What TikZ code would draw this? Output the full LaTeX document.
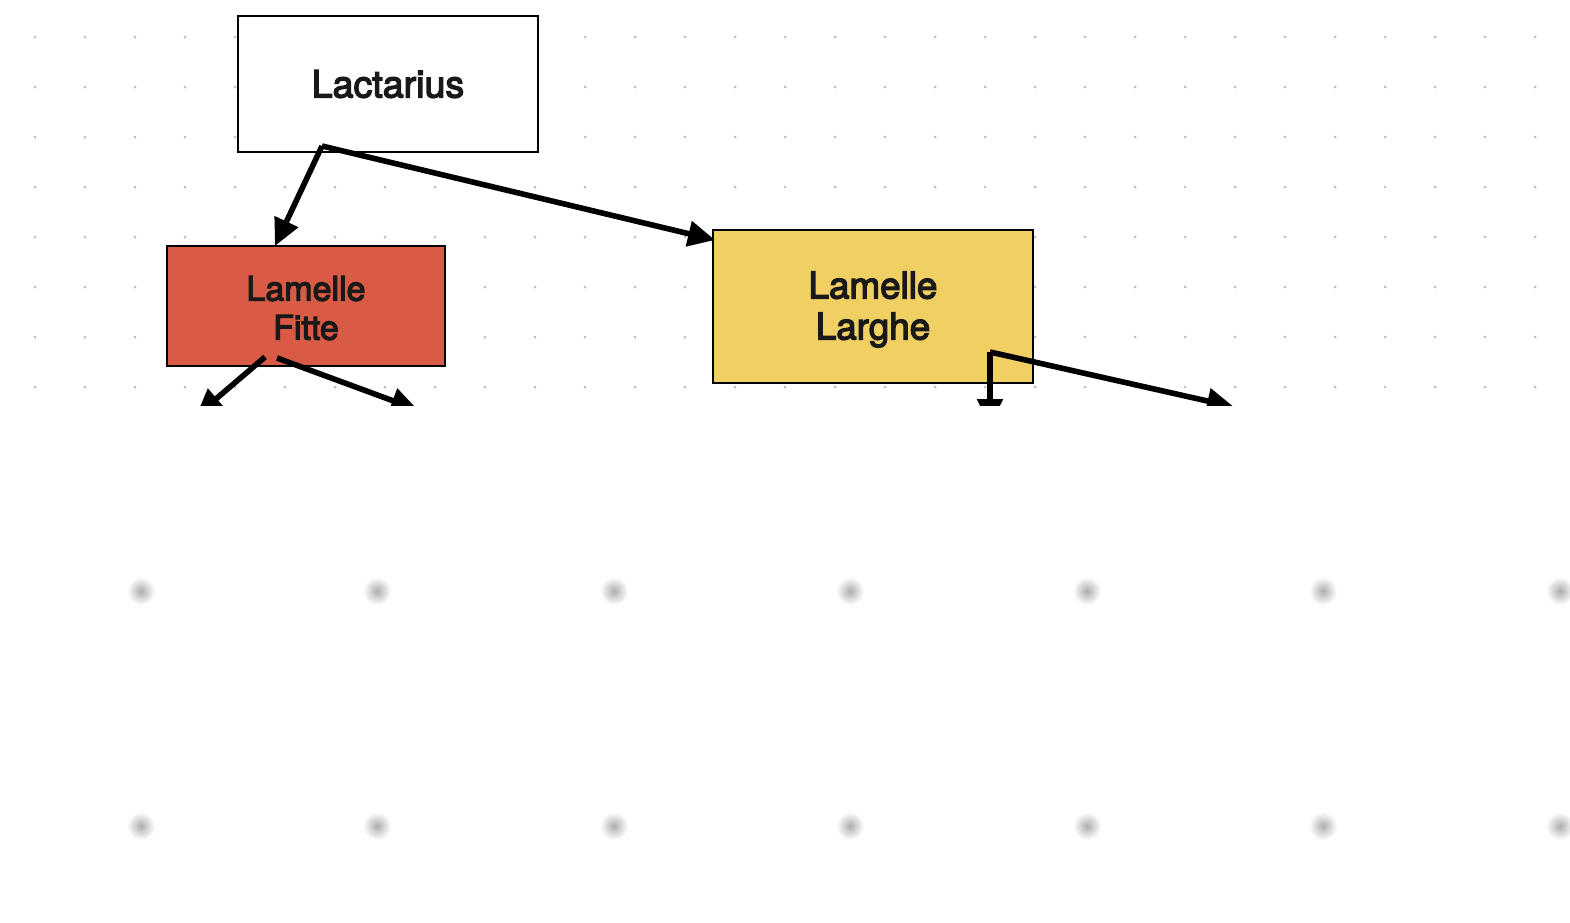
\documentclass[tikz,border=0pt]{standalone}
\usepackage{fontspec}
\setmainfont{TeX Gyre Heros}
\newfontfamily\fb[FakeBold=3.5]{TeX Gyre Heros}
\usetikzlibrary{arrows.meta,calc}
\definecolor{redbox}{HTML}{D95B45}
\definecolor{yellowbox}{HTML}{F0CF63}
\definecolor{griddot}{HTML}{BDBDBD}
\tikzset{
  box/.style={draw=black, line width=1pt, rectangle, inner sep=0pt, align=center, text=black!90},
  conn/.style={draw=black, line width=2.8pt, -{Triangle[length=13.5pt,width=12.5pt]}, line join=miter},
  dotg/.style={fill=griddot},
}
\begin{document}
\begin{tikzpicture}[x=0.5pt,y=-0.5pt]
\useasboundingbox (0,0) rectangle (1570,922);
\fill[white] (0,0) rectangle (1570,922);
% dot grid
\foreach \i in {0,...,30}{
  \foreach \j in {0,...,7}{
    \fill[dotg] (35+50*\i, 37+50*\j) circle (0.75pt);
  }
}
% blurry marks
\foreach \xx in {141,377,614,850,1087,1323,1560}{
  \foreach \yy in {591,826}{
    \shade[inner color=black!32, outer color=white] (\xx,\yy) circle (7pt);
  }
}
% nodes
\node[box, fill=white, minimum width=150pt, minimum height=68pt,
  font=\fb\fontsize{18.8pt}{20pt}\selectfont] (lact) at (388,84) {Lactarius};
\node[box, fill=redbox, minimum width=139pt, minimum height=60pt] (fitte) at (306,306) {};
\node[font=\fb\fontsize{17pt}{19.5pt}\selectfont, align=center, inner sep=0pt, text=black!90]
  (fittelbl) at (306,308) {Lamelle\\Fitte};
\node[box, fill=yellowbox, minimum width=160pt, minimum height=76.5pt] (larghe) at (873,306.5) {};
\node[font=\fb\fontsize{18.4pt}{20.5pt}\selectfont, align=center, inner sep=0pt, text=black!90]
  (larghelbl) at (873,309.5) {Lamelle\\Larghe};
% connector points
\coordinate (s1) at (322,146);
\coordinate (e1) at (275,246);
\coordinate (e2) at (715,240);
\coordinate (s2) at (265,357);
\coordinate (e3) at (196,416);
\coordinate (s3) at (277,358);
\coordinate (e4) at (418,410);
\coordinate (s4) at (990,352);
\coordinate (e5) at (990,426);
\coordinate (e6) at (1234,407);
\draw[conn] (s1) -- (e1);
\draw[conn] (s1) -- (e2);
\begin{scope}
\clip (0,0) rectangle (1570,405);
\draw[conn] (s2) -- (e3);
\draw[conn] (s3) -- (e4);
\draw[conn] (s4) -- (e5);
\draw[conn] (s4) -- (e6);
\end{scope}
\end{tikzpicture}
\end{document}
